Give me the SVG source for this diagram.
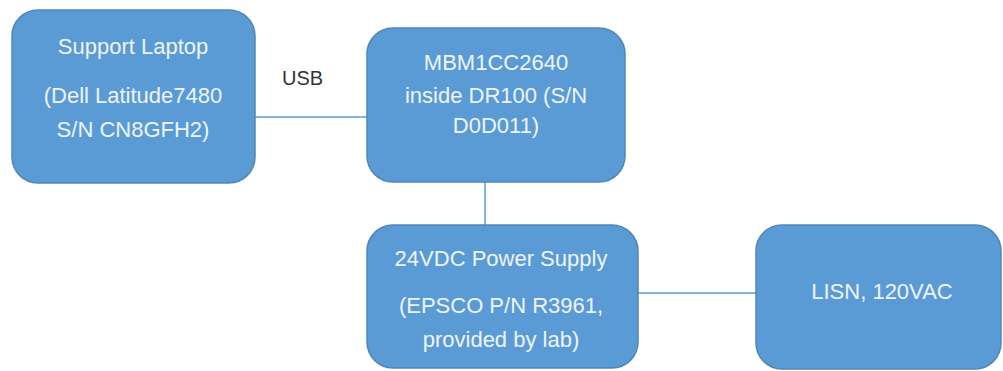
<svg xmlns="http://www.w3.org/2000/svg" width="1003" height="371" viewBox="0 0 1003 371">
<style>
.box{fill:#5b9bd5;stroke:#4f87ba;stroke-width:1.5}
.t{font-family:"Liberation Sans",Arial,sans-serif;font-size:22px;fill:#eef4fb;text-anchor:middle}
.lbl{font-family:"Liberation Sans",Arial,sans-serif;font-size:20px;fill:#333333}
.c{stroke:#5b9bd5;stroke-width:1.5;fill:none}
</style>
<rect width="1003" height="371" fill="#ffffff"/>
<g id="connectors">
<line class="c" x1="255" y1="117" x2="367" y2="117"/>
<line class="c" x1="485" y1="182" x2="485" y2="225"/>
<line class="c" x1="638" y1="293" x2="756" y2="293"/>
<text class="lbl" x="282" y="85">USB</text>
</g>
<g id="laptop">
<rect class="box" x="12" y="10" width="243" height="173" rx="26"/>
<text class="t" x="133" y="54">Support Laptop</text>
<text class="t" x="133" y="103">(Dell Latitude7480</text>
<text class="t" x="133" y="137">S/N CN8GFH2)</text>
</g>
<g id="mbm">
<rect class="box" x="367" y="28" width="258" height="154" rx="26"/>
<text class="t" x="496" y="70">MBM1CC2640</text>
<text class="t" x="496" y="103">inside DR100 (S/N</text>
<text class="t" x="496" y="133">D0D011)</text>
</g>
<g id="psu">
<rect class="box" x="367" y="225" width="271" height="143" rx="26"/>
<text class="t" x="501" y="266">24VDC Power Supply</text>
<text class="t" x="501" y="313">(EPSCO P/N R3961,</text>
<text class="t" x="501" y="347">provided by lab)</text>
</g>
<g id="lisn">
<rect class="box" x="756" y="225" width="245" height="144" rx="26"/>
<text class="t" x="882" y="299">LISN, 120VAC</text>
</g>
</svg>
